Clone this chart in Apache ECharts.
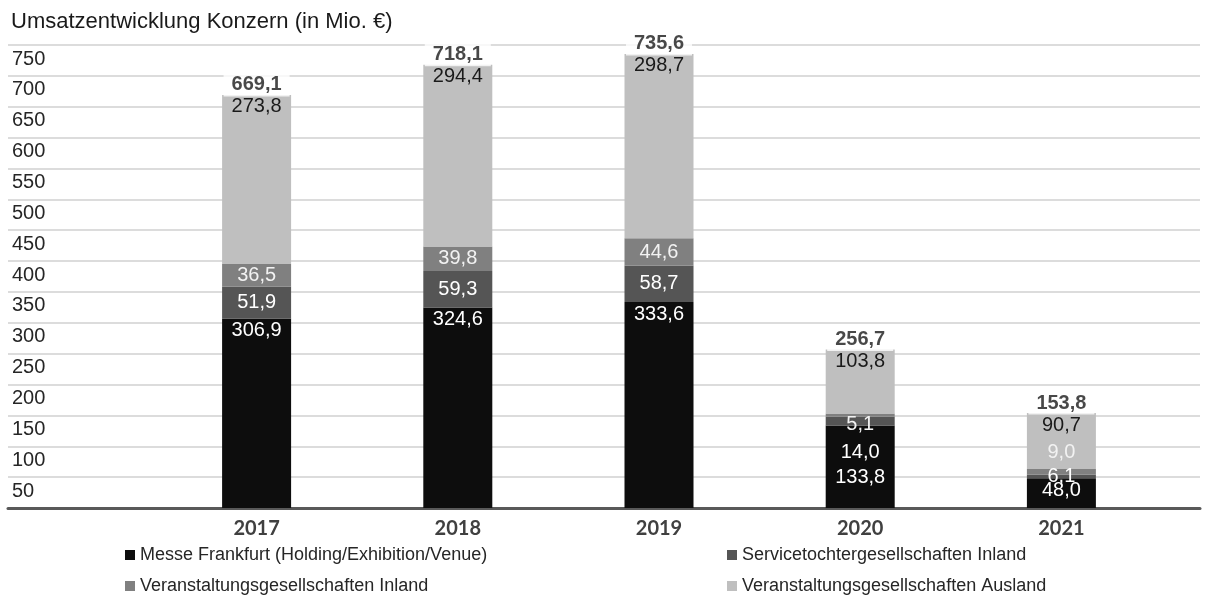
<!DOCTYPE html>
<html>
<head>
<meta charset="utf-8">
<script src="https://cdn.jsdelivr.net/npm/echarts@6/dist/echarts.min.js"></script>
<style>
html, body { margin: 0; padding: 0; background: #fff; }
#chart { width: 1209px; height: 599px; }
</style>
</head>
<body>
<div id="chart"></div>
<script>
// values (Mio. €)
const years = ['2017', '2018', '2019', '2020', '2021']
const messe = [306.9, 324.6, 333.6, 133.8, 48.0]
const service = [51.9, 59.3, 58.7, 14.0, 6.1]
const vaInland = [36.5, 39.8, 44.6, 5.1, 9.0]
const vaAusland = [273.8, 294.4, 298.7, 103.8, 90.7]
const totals = [669.1, 718.1, 735.6, 256.7, 153.8]

const names = [
  'Messe Frankfurt (Holding/Exhibition/Venue)',
  'Servicetochtergesellschaften Inland',
  'Veranstaltungsgesellschaften Inland',
  'Veranstaltungsgesellschaften Ausland',
]

const FONT = "'Liberation Sans', Arial, sans-serif"
const fmt = v => v.toFixed(1).replace('.', ',')

// label nudges where the original stacks labels for thin segments
const tweaks = [
  { 3: { offset: [0, 11], position: 'inside' } },
  { 3: { offset: [0, 31] } },
  { 3: { offset: [0, 9] }, 4: { offset: [0, -19] } },
  {},
]

function items(values, idx) {
  return values.map((v, i) => {
    const t = tweaks[idx][i]
    return t ? { value: v, label: t } : v
  })
}

function barSeries(idx, values, color, labelColor, position) {
  return {
    name: names[idx],
    type: 'bar',
    stack: 'umsatz',
    xAxisIndex: 1,
    yAxisIndex: 1,
    barWidth: 69,
    itemStyle: { color: color },
    label: {
      show: true,
      position: position,
      distance: 2,
      color: labelColor,
      fontFamily: FONT,
      fontSize: 20,
      formatter: p => fmt(p.value),
    },
    data: items(values, idx),
  }
}

// one legend per entry so they sit in a 2x2 block like the original
function legendAt(name, left, top) {
  return {
    left: left,
    top: top,
    icon: 'rect',
    itemWidth: 10,
    itemHeight: 10,
    itemGap: 4,
    textStyle: { fontFamily: FONT, fontSize: 18, color: '#262626' },
    data: [name],
  }
}

const chart = echarts.init(document.getElementById('chart'))
chart.setOption({
  animation: false,
  title: {
    text: 'Umsatzentwicklung Konzern (in Mio. €)',
    left: 6,
    top: 6,
    textStyle: { fontFamily: FONT, fontSize: 22, fontWeight: 'normal', color: '#1a1a1a' },
  },
  legend: [
    legendAt(names[0], 120, 541),
    legendAt(names[2], 120, 572),
    legendAt(names[1], 722, 541),
    legendAt(names[3], 722, 572),
  ],
  grid: [
    { left: 8, right: 9, top: 45, bottom: 91 },
    { left: 156, right: 47, top: 45, bottom: 91 },
  ],
  xAxis: [
    {
      gridIndex: 0,
      type: 'value',
      min: 0,
      max: 1,
      axisLine: { show: true, lineStyle: { color: '#595959', width: 3 } },
      axisTick: { show: false },
      axisLabel: { show: false },
      splitLine: { show: false },
    },
    {
      gridIndex: 1,
      type: 'category',
      data: years,
      axisLine: { show: false },
      axisTick: { show: false },
      axisLabel: {
        margin: 11,
        fontFamily: 'Lato, sans-serif',
        fontWeight: 'bold',
        fontSize: 20,
        color: '#404040',
      },
    },
  ],
  yAxis: [
    {
      gridIndex: 0,
      type: 'value',
      min: 0,
      max: 750,
      interval: 50,
      axisLine: { show: false },
      axisTick: { show: false },
      splitLine: { lineStyle: { color: '#dcdcdc', width: 2 } },
      axisLabel: {
        inside: true,
        align: 'left',
        verticalAlign: 'top',
        margin: 4,
        padding: [4, 0, 0, 0],
        fontFamily: FONT,
        fontSize: 20,
        color: '#262626',
        formatter: v => (v === 0 ? '' : String(v)),
      },
    },
    {
      gridIndex: 1,
      type: 'value',
      min: 0,
      max: 750,
      interval: 50,
      show: false,
    },
  ],
  series: [
    barSeries(0, messe, '#0d0d0d', '#ffffff', 'insideTop'),
    barSeries(1, service, '#555555', '#ffffff', 'inside'),
    barSeries(2, vaInland, '#808080', '#f2f2f2', 'inside'),
    barSeries(3, vaAusland, '#bfbfbf', '#1a1a1a', 'insideTop'),
    {
      name: 'Gesamt',
      type: 'scatter',
      xAxisIndex: 1,
      yAxisIndex: 1,
      symbol: 'rect',
      symbolSize: 1,
      z: 10,
      itemStyle: { color: 'rgba(0,0,0,0)' },
      label: {
        show: true,
        position: 'inside',
        offset: [0, -10],
        backgroundColor: '#ffffff',
        padding: [2, 8, 1, 8],
        fontFamily: FONT,
        fontWeight: 'bold',
        fontSize: 20,
        color: '#1a1a1a',
        formatter: p => fmt(p.value[1] !== undefined ? p.value[1] : p.value),
      },
      data: totals,
    },
  ],
})
</script>
</body>
</html>
